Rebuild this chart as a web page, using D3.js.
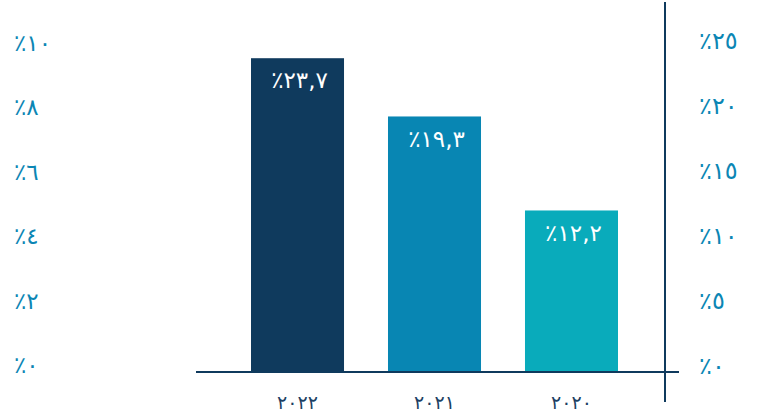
<!DOCTYPE html>
<html><head><meta charset="utf-8">
<script src="https://cdn.jsdelivr.net/npm/d3@7"></script>
<style>
html,body{margin:0;padding:0;background:#fff;}
svg text{font-family:"DejaVu Sans","Noto Sans",sans-serif;unicode-bidi:bidi-override;direction:ltr;}
</style></head>
<body><svg id="c" width="768" height="417"></svg>
<script>
const categories = ["٢٠٢٢","٢٠٢١","٢٠٢٠"];
const values = [23.7, 19.3, 12.2];
const valueLabels = ["٪٢٣,٧","٪١٩,٣","٪١٢,٢"];
const barColors = ["#0f3a5d","#0886b3","#09abbb"];
const leftTicks = [0,2,4,6,8,10];
const leftTickLabels = ["٪٠","٪٢","٪٤","٪٦","٪٨","٪١٠"];
const rightTicks = [0,5,10,15,20,25];
const rightTickLabels = ["٪٠","٪٥","٪١٠","٪١٥","٪٢٠","٪٢٥"];

const svg = d3.select("#c");
const y = d3.scaleLinear().domain([0,25]).range([372,41]);
const yLabR = d3.scaleLinear().domain([0,25]).range([366,41]);
const yLabL = d3.scaleLinear().domain([0,10]).range([365,43]);
const x = d3.scaleBand().domain(categories).range([251,618]).paddingInner(0.321).paddingOuter(0);

// bars
svg.selectAll("rect.bar").data(values).enter().append("rect")
  .attr("x",(d,i)=>x(categories[i]))
  .attr("width",x.bandwidth())
  .attr("y",d=>y(d))
  .attr("height",d=>y(0)-y(d))
  .attr("fill",(d,i)=>barColors[i]);

// value labels
svg.selectAll("text.val").data(values).enter().append("text")
  .attr("x",(d,i)=>x(categories[i])+x.bandwidth()/2+2)
  .attr("y",d=>y(d)+22)
  .attr("dy","0.35em")
  .attr("text-anchor","middle")
  .attr("fill","#ffffff")
  .attr("font-size",23)
  .text((d,i)=>valueLabels[i]);

// x axis line
svg.append("line").attr("x1",196).attr("x2",679).attr("y1",y(0)).attr("y2",y(0))
  .attr("stroke","#0f3a5d").attr("stroke-width",2);
// right vertical line
svg.append("line").attr("x1",665).attr("x2",665).attr("y1",2).attr("y2",402)
  .attr("stroke","#0f3a5d").attr("stroke-width",2);

// x labels
svg.selectAll("text.cat").data(categories).enter().append("text")
  .attr("x",d=>x(d)+x.bandwidth()/2)
  .attr("y",402)
  .attr("dy","0.35em")
  .attr("text-anchor","middle")
  .attr("fill","#1c3f63")
  .attr("font-size",19)
  .text(d=>d);

// left labels
svg.selectAll("text.l").data(leftTicks).enter().append("text")
  .attr("x",14).attr("y",d=>yLabL(d)).attr("dy","0.35em")
  .attr("fill","#0b86b4").attr("font-size",23)
  .text((d,i)=>leftTickLabels[i]);

// right labels
svg.selectAll("text.r").data(rightTicks).enter().append("text")
  .attr("x",699).attr("y",d=>yLabR(d)).attr("dy","0.35em")
  .attr("fill","#0b86b4").attr("font-size",24)
  .text((d,i)=>rightTickLabels[i]);
</script></body></html>
